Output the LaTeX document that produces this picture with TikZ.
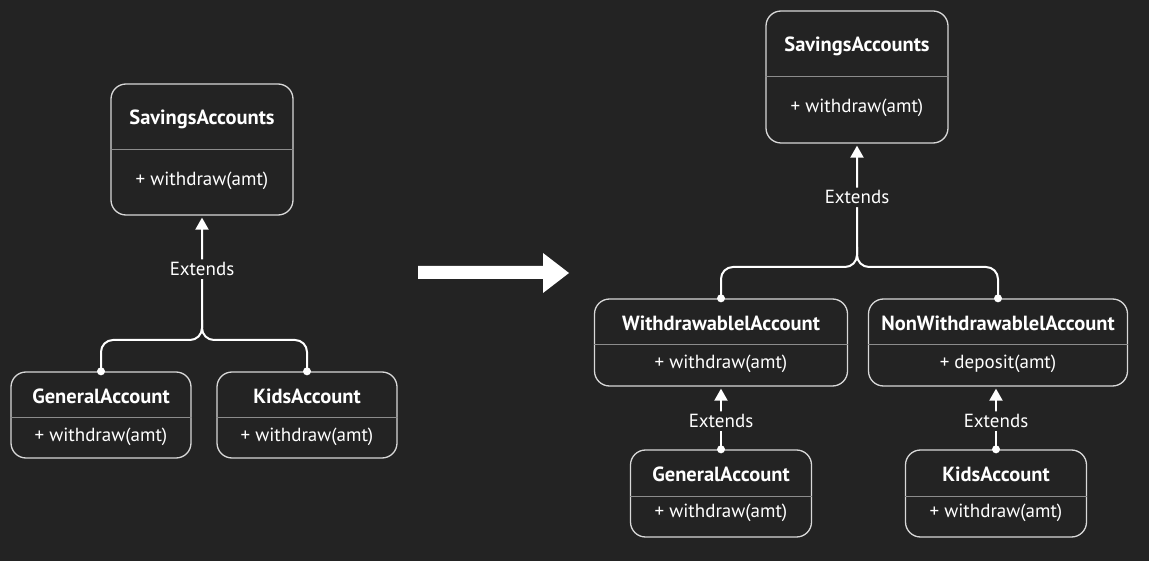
\documentclass[tikz,border=0pt]{standalone}
\usepackage{fontspec}
\setmainfont{PT Sans}
\usetikzlibrary{arrows.meta}

\definecolor{bg}{HTML}{232323}
\definecolor{boxline}{HTML}{D8D8D8}
\definecolor{divline}{HTML}{8C8C8C}

\tikzset{
  classbox/.style={draw=boxline, line width=1.3pt, rounded corners=15pt, fill=bg},
  clsname/.style={font=\bfseries\fontsize{20.5}{24}\selectfont, text=white, inner sep=0pt},
  clsop/.style={font=\fontsize{19}{22}\selectfont, text=white, inner sep=0pt},
  divider/.style={draw=divline, line width=1pt},
  conn/.style={draw=white, line width=2pt, rounded corners=12pt},
  extends/.style={conn, -{Triangle[width=13pt,length=12pt]}, shorten >=2pt},
  lbl/.style={fill=bg, text=white, font=\fontsize{19}{22}\selectfont, inner sep=3pt}
}

\begin{document}
\begin{tikzpicture}[x=1pt, y=1pt]
  \useasboundingbox[fill=bg] (0,0) rectangle (1149,-561);

  % left: before
  \node[classbox, minimum width=182, minimum height=131] (lsav) at (202,-149.5) {};
  \node[classbox, minimum width=180, minimum height=86] (lgen) at (101,-415) {};
  \node[classbox, minimum width=180, minimum height=86] (lkid) at (307,-415) {};
  \draw[divider] ([yshift=-66pt]lsav.north west) -- ([yshift=-66pt]lsav.north east);
  \draw[divider] ([yshift=-46pt]lgen.north west) -- ([yshift=-46pt]lgen.north east);
  \draw[divider] ([yshift=-46pt]lkid.north west) -- ([yshift=-46pt]lkid.north east);
  \node[clsname] (lsavT) at (202,-119) {SavingsAccounts};
  \node[clsop] (lsavM) at (202,-181) {+ withdraw(amt)};
  \node[clsname] (lgenT) at (101,-396) {GeneralAccount};
  \node[clsop] (lgenM) at (101,-437) {+ withdraw(amt)};
  \node[clsname] (lkidT) at (307,-396) {KidsAccount};
  \node[clsop] (lkidM) at (307,-437) {+ withdraw(amt)};

  \coordinate (ljoin) at (202,-340);
  \draw[conn] (lkid.north) |- (ljoin) -- ++(0,20);
  \draw[extends] (lgen.north) |- (ljoin) -- node[lbl, pos=0.57] (lext) {Extends} (lsav.south);
  \fill[white] (lgen.north) circle (4pt);
  \fill[white] (lkid.north) circle (4pt);

  % big arrow
  \fill[white] (418,-266) -- (543,-266) -- (543,-253) -- (569,-273)
    -- (543,-293) -- (543,-279) -- (418,-279) -- cycle;

  % right: after
  \node[classbox, minimum width=182, minimum height=132] (rsav) at (857,-77) {};
  \node[classbox, minimum width=253, minimum height=87] (rwd) at (721,-342.5) {};
  \node[classbox, minimum width=259, minimum height=87] (rnw) at (998,-342.5) {};
  \node[classbox, minimum width=181, minimum height=87] (rgen) at (721,-493.5) {};
  \node[classbox, minimum width=181, minimum height=87] (rkid) at (996,-493.5) {};
  \draw[divider] ([yshift=-66pt]rsav.north west) -- ([yshift=-66pt]rsav.north east);
  \draw[divider] ([yshift=-46pt]rwd.north west) -- ([yshift=-46pt]rwd.north east);
  \draw[divider] ([yshift=-46pt]rnw.north west) -- ([yshift=-46pt]rnw.north east);
  \draw[divider] ([yshift=-47pt]rgen.north west) -- ([yshift=-47pt]rgen.north east);
  \draw[divider] ([yshift=-47pt]rkid.north west) -- ([yshift=-47pt]rkid.north east);
  \node[clsname] (rsavT) at (857,-46) {SavingsAccounts};
  \node[clsop] (rsavM) at (857,-108) {+ withdraw(amt)};
  \node[clsname] (rwdT) at (721,-323) {WithdrawablelAccount};
  \node[clsop] (rwdM) at (721,-364) {+ withdraw(amt)};
  \node[clsname] (rnwT) at (998,-323) {NonWithdrawablelAccount};
  \node[clsop] (rnwM) at (998,-364) {+ deposit(amt)};
  \node[clsname] (rgenT) at (721,-474) {GeneralAccount};
  \node[clsop] (rgenM) at (721,-513) {+ withdraw(amt)};
  \node[clsname] (rkidT) at (996,-474) {KidsAccount};
  \node[clsop] (rkidM) at (996,-513) {+ withdraw(amt)};

  \coordinate (rjoin) at (857,-267);
  \draw[conn] (rnw.north) |- (rjoin) -- ++(0,20);
  \draw[extends] (rwd.north) |- (rjoin) -- node[lbl, pos=0.565] (rext) {Extends} (rsav.south);
  \draw[extends] (rgen.north) -- node[lbl, pos=0.45] (rext1) {Extends} (rgen.north |- rwd.south);
  \draw[extends] (rkid.north) -- node[lbl, pos=0.45] (rext2) {Extends} (rkid.north |- rnw.south);
  \fill[white] (rwd.north) circle (4pt);
  \fill[white] (rnw.north) circle (4pt);
  \fill[white] (rgen.north) circle (4pt);
  \fill[white] (rkid.north) circle (4pt);
\end{tikzpicture}
\end{document}
